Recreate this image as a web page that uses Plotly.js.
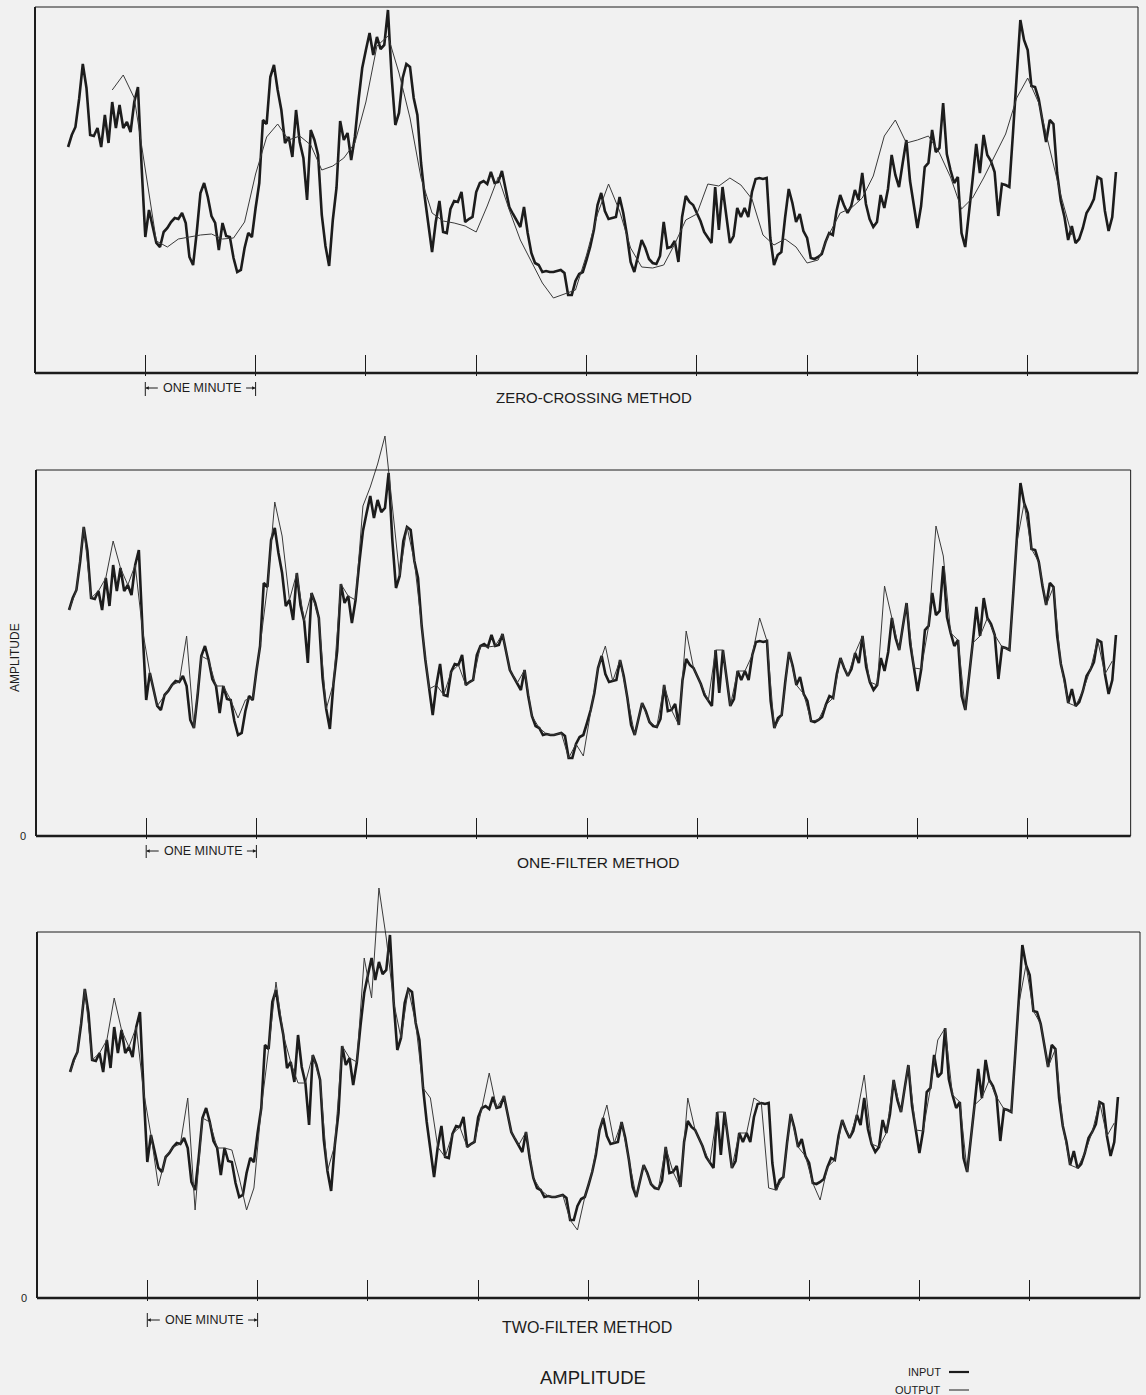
<!DOCTYPE html>
<html><head><meta charset="utf-8">
<script src="https://cdn.plot.ly/plotly-3.0.1.min.js"></script>
<style>html,body{margin:0;padding:0;background:#f1f1f1;}#chart{width:1146px;height:1395px;}</style>
</head><body><div id="chart"></div>
<script>
// ---- DATA (amplitude in chart units: 0 = baseline, 366 = full-scale box top; time in seconds) ----
const inputStartSec = 18, inputStepSec = 2;
const inputAmplitude = [
226,238,246,274,309,285,238,237,245,226,
258,230,271,245,268,245,251,241,271,286,
206,136,163,146,130,126,141,145,151,155,
154,160,150,116,108,141,180,190,176,157,
150,123,150,137,136,115,101,103,125,140,
136,165,190,253,249,296,308,283,263,230,
236,216,263,231,215,173,243,233,218,158,
127,107,153,185,252,233,240,213,236,273,
305,323,340,318,336,324,328,363,296,248,
260,295,309,306,275,258,210,176,147,121,
151,172,141,140,164,172,171,181,151,154,
156,181,190,192,189,201,190,191,202,183,
166,159,153,146,166,140,120,110,108,101,
102,101,101,102,103,100,78,78,92,99,
101,113,126,143,168,180,162,154,155,156,
176,160,138,111,101,118,133,125,114,110,
109,117,151,125,126,132,111,156,177,171,
168,160,152,141,135,130,186,143,186,156,
130,137,165,156,165,156,181,194,195,194,
195,135,108,118,121,155,184,170,151,159,
142,135,115,114,116,119,131,140,138,162,
178,168,160,167,183,173,200,169,154,146,
151,178,165,184,218,198,186,210,233,192,
168,145,167,206,210,243,221,225,270,219,
203,190,196,140,126,163,193,229,200,238,
218,212,201,157,189,188,186,240,293,353,
333,323,287,286,274,250,231,253,249,200,
172,156,133,147,130,134,145,160,166,174,
196,194,162,142,156,201
];
const zeroCrossingStartSec = 42, zeroCrossingStepSec = 6;
const zeroCrossingOutput = [
283,298,275,201,132,126,134,136,138,139,
134,135,151,199,236,249,233,237,228,203,
207,215,230,271,327,337,300,255,195,160,
152,150,147,141,167,196,163,133,111,90,
75,79,83,118,159,189,162,125,106,105,
108,129,153,159,189,187,195,188,174,138,
128,134,126,110,113,139,160,165,175,197,
237,253,230,233,237,220,196,164,175,195,
217,239,275,295,270,225,178,138
];
const filterStartSec = 18, filterStepSec = 4;
const oneFilterOutput = [
226,246,309,238,245,258,295,268,251,271,
206,163,130,141,151,154,200,108,180,176,
150,150,136,118,136,138,190,249,334,300,
236,263,215,243,218,127,153,252,240,236,
330,349,372,400,330,260,309,275,210,147,
151,141,164,171,151,156,190,189,190,202,
166,153,166,120,108,102,101,103,78,92,
80,126,168,190,155,176,138,101,133,114,
109,151,126,111,205,168,152,135,186,186,
130,165,165,181,218,195,108,121,184,151,
142,115,116,131,138,178,160,183,200,154,
151,250,218,186,233,168,167,210,310,280,
203,196,126,193,200,218,201,189,186,293,
333,287,274,231,249,172,133,130,145,166,
196,162,175
];
const twoFilterOutput = [
226,246,309,238,245,258,300,268,251,271,
206,163,112,141,151,154,200,88,180,176,
150,150,148,120,88,110,190,249,316,263,
236,215,215,243,218,127,153,252,240,236,
340,300,410,360,296,260,309,275,210,200,
151,141,164,171,151,156,190,225,190,202,
166,153,166,120,108,102,101,103,78,68,
101,126,168,193,155,176,138,101,133,114,
109,151,126,111,200,168,152,135,186,186,
130,165,165,200,195,110,108,121,184,151,
142,115,98,131,138,178,160,183,223,154,
151,165,218,186,233,168,167,210,258,270,
203,196,126,193,200,218,201,189,186,293,
333,287,274,231,249,172,133,130,145,166,
196,162,175
];
const minuteTickSec = [60,120,180,240,300,360,420,480,540];
const FULL_SCALE = 366;
const RECORD_END_SEC = 600;
const panelTitles = ['ZERO-CROSSING METHOD', 'ONE-FILTER METHOD', 'TWO-FILTER METHOD'];
const minuteLabel = 'ONE MINUTE';
const yAxisLabel = 'AMPLITUDE';
const legendLabels = ['INPUT', 'OUTPUT'];

// ---- LAYOUT ----
const W = 1146, H = 1395;
const PX = p => p / W;
const PY = p => 1 - p / H;
const INK = '#1c1c1c';
const FONT = 'Liberation Sans, Arial, sans-serif';

const timeOf = (arr, t0, dt) => arr.map((_, i) => t0 + i * dt);
const inputTime = timeOf(inputAmplitude, inputStartSec, inputStepSec);
const outputs = [
  {x: timeOf(zeroCrossingOutput, zeroCrossingStartSec, zeroCrossingStepSec), y: zeroCrossingOutput},
  {x: timeOf(oneFilterOutput, filterStartSec, filterStepSec), y: oneFilterOutput},
  {x: timeOf(twoFilterOutput, filterStartSec, filterStepSec), y: twoFilterOutput}
];

const panels = [
  {x0: 35, x1: 1138, base: 373, yMax: 370, boxRight: 600, title: 594, titleY: 398, tsize: 15, minY: 388, barTop: 382, barBot: 396, zero: false},
  {x0: 36, x1: 1138, base: 836, yMax: 420, boxRight: 596, title: 598, titleY: 862, tsize: 15.5, minY: 851, barTop: 845, barBot: 858, zero: true},
  {x0: 37, x1: 1140, base: 1298, yMax: 420, boxRight: 600, title: 587, titleY: 1327, tsize: 16, minY: 1320, barTop: 1313, barBot: 1327, zero: true}
];

const traces = [];
const shapes = [];
const annotations = [];
const layout = {
  width: W, height: H,
  margin: {l: 0, r: 0, t: 0, b: 0},
  paper_bgcolor: '#f1f1f1', plot_bgcolor: 'rgba(0,0,0,0)',
  showlegend: false,
  font: {family: FONT, color: INK}
};

panels.forEach((p, k) => {
  const n = k === 0 ? '' : String(k + 1);
  const xa = 'x' + n, ya = 'y' + n;
  const padU = 3;
  const sx = (p.x1 - p.x0) / RECORD_END_SEC;
  const padT = 3 / sx;
  layout['xaxis' + n] = {
    domain: [PX(p.x0 - 3), PX(p.x1 + 3)], range: [-padT, RECORD_END_SEC + padT],
    anchor: ya, tickvals: minuteTickSec, ticks: 'inside', ticklen: 21, tickwidth: 1, tickcolor: INK,
    showticklabels: false, showgrid: false, zeroline: false, showline: false, fixedrange: true
  };
  layout['yaxis' + n] = {
    domain: [PY(p.base + padU), PY(p.base - p.yMax)], range: [-padU, p.yMax],
    anchor: xa, showgrid: false, zeroline: false, showline: false, fixedrange: true,
    ticks: '', showticklabels: p.zero, tickvals: [0], ticktext: ['0'],
    tickfont: {size: 11, color: INK, family: FONT}, ticklabelstandoff: 6
  };
  traces.push({x: inputTime, y: inputAmplitude, xaxis: xa, yaxis: ya, type: 'scatter', mode: 'lines',
    name: legendLabels[0], line: {color: INK, width: 2.6}});
  traces.push({x: outputs[k].x, y: outputs[k].y, xaxis: xa, yaxis: ya, type: 'scatter', mode: 'lines',
    name: legendLabels[1], line: {color: '#3a3a3a', width: 1}});
  const ln = (x0, y0, x1, y1, w) => shapes.push({type: 'line', xref: xa, yref: ya, x0, y0, x1, y1, line: {color: INK, width: w}});
  ln(0, 0, p.boxRight, 0, 2.4);
  ln(0, 0, 0, FULL_SCALE, 2);
  ln(0, FULL_SCALE, p.boxRight, FULL_SCALE, 1);
  ln(p.boxRight, 0, p.boxRight, FULL_SCALE, 1);
  [60, 120].forEach(t => shapes.push({type: 'line', xref: xa, yref: 'paper', x0: t, x1: t,
    y0: PY(p.barBot), y1: PY(p.barTop), line: {color: INK, width: 1}}));
  annotations.push({xref: xa, yref: 'paper', x: 60, y: PY(p.minY), ax: 14, ay: 0, text: '', showarrow: true,
    arrowhead: 2, arrowsize: 0.7, arrowwidth: 1, arrowcolor: INK});
  annotations.push({xref: xa, yref: 'paper', x: 120, y: PY(p.minY), ax: -11, ay: 0, text: '', showarrow: true,
    arrowhead: 2, arrowsize: 0.7, arrowwidth: 1, arrowcolor: INK});
  annotations.push({xref: xa, yref: 'paper', x: 91, y: PY(p.minY), text: minuteLabel, showarrow: false,
    font: {size: 12.5, color: INK, family: FONT}, xanchor: 'center', yanchor: 'middle'});
  annotations.push({xref: 'paper', yref: 'paper', x: PX(p.title), y: PY(p.titleY), text: panelTitles[k],
    showarrow: false, font: {size: p.tsize, color: INK, family: FONT}, xanchor: 'center', yanchor: 'middle'});
});

annotations.push({xref: 'paper', yref: 'paper', x: PX(15), y: PY(658), text: yAxisLabel, textangle: -90,
  showarrow: false, font: {size: 12, color: INK, family: FONT}, xanchor: 'center', yanchor: 'middle'});
annotations.push({xref: 'paper', yref: 'paper', x: PX(593), y: PY(1377), text: yAxisLabel,
  showarrow: false, font: {size: 18.5, color: INK, family: FONT}, xanchor: 'center', yanchor: 'middle'});
annotations.push({xref: 'paper', yref: 'paper', x: PX(943), y: PY(1372), text: legendLabels[0], showarrow: false,
  font: {size: 11, color: INK, family: FONT}, xanchor: 'right', yanchor: 'middle'});
annotations.push({xref: 'paper', yref: 'paper', x: PX(943), y: PY(1390), text: legendLabels[1], showarrow: false,
  font: {size: 11, color: INK, family: FONT}, xanchor: 'right', yanchor: 'middle'});
shapes.push({type: 'line', xref: 'paper', yref: 'paper', x0: PX(949), x1: PX(969), y0: PY(1372), y1: PY(1372), line: {color: INK, width: 2.2}});
shapes.push({type: 'line', xref: 'paper', yref: 'paper', x0: PX(949), x1: PX(969), y0: PY(1390), y1: PY(1390), line: {color: INK, width: 1}});

layout.shapes = shapes;
layout.annotations = annotations;
Plotly.newPlot('chart', traces, layout, {staticPlot: true});
</script></body></html>
